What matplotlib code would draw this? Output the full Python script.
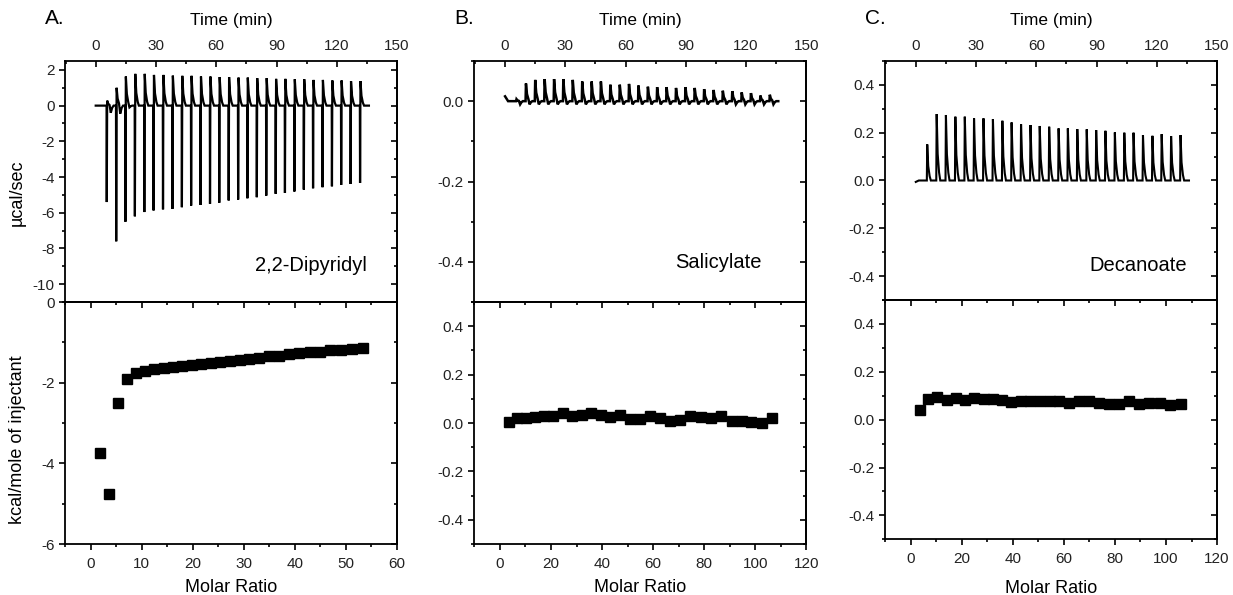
import numpy as np
import matplotlib
matplotlib.use('Agg')
import matplotlib.pyplot as plt
from matplotlib.ticker import MultipleLocator, FormatStrFormatter

plt.rcParams['font.family'] = ['Liberation Sans', 'DejaVu Sans']
plt.rcParams['axes.unicode_minus'] = False

# injection times (min), same protocol for all three titrations
t_inj = [5.5, 10.2, 14.8, 19.5, 24.2, 28.8, 33.5, 38.2, 42.9, 47.5, 52.2, 56.9, 61.5, 66.2,
         70.9, 75.5, 80.2, 84.9, 89.6, 94.2, 98.9, 103.6, 108.2, 112.9, 117.6, 122.2, 126.9, 131.6]
t_end = 136.0

# A. 2,2-Dipyridyl raw heat (ucal/sec): spike minimum, peak maximum, after-dip
a_low = [-5.4, -7.6, -6.5, -6.2, -5.96, -5.87, -5.81, -5.78, -5.69, -5.6, -5.56, -5.5, -5.44, -5.31,
         -5.26, -5.19, -5.13, -5.04, -4.94, -4.89, -4.81, -4.7, -4.63, -4.57, -4.52, -4.44, -4.39, -4.33]
a_high = [0.28, 1.0, 1.63, 1.78, 1.78, 1.72, 1.72, 1.68, 1.67, 1.67, 1.63, 1.63, 1.6, 1.6,
          1.57, 1.57, 1.54, 1.54, 1.5, 1.5, 1.48, 1.48, 1.44, 1.44, 1.41, 1.41, 1.37, 1.37]
a_dip = [-0.4, -0.45, -0.1, 0, 0, 0, 0, 0, 0, 0, 0, 0, 0, 0,
         0, 0, 0, 0, 0, 0, 0, 0, 0, 0, 0, 0, 0, 0]

# B. Salicylate raw heat
b_high = [0.005, 0.044, 0.053, 0.055, 0.055, 0.055, 0.053, 0.049, 0.049, 0.049, 0.041, 0.041, 0.043, 0.039,
          0.036, 0.035, 0.035, 0.033, 0.035, 0.033, 0.030, 0.028, 0.026, 0.025, 0.022, 0.020, 0.014, 0.016]
b_dip = [-0.008] * 28

# C. Decanoate raw heat
c_high = [0.151, 0.278, 0.274, 0.267, 0.267, 0.26, 0.26, 0.257, 0.25, 0.243, 0.236, 0.232, 0.228, 0.225,
          0.218, 0.218, 0.215, 0.214, 0.211, 0.208, 0.201, 0.2, 0.2, 0.19, 0.187, 0.194, 0.186, 0.19]

# integrated heats (kcal/mole of injectant) vs molar ratio
a_mr = [1.8, 3.6, 5.3, 7.1, 8.9, 10.7, 12.5, 14.3, 16.1, 18.0, 19.8, 21.6, 23.5, 25.4,
        27.3, 29.2, 31.1, 33.0, 35.0, 36.9, 38.9, 40.9, 42.9, 44.9, 46.9, 49.0, 51.1, 53.3]
a_dh = [-3.75, -4.75, -2.5, -1.9, -1.76, -1.70, -1.67, -1.63, -1.61, -1.58, -1.56, -1.53, -1.51, -1.48,
        -1.46, -1.43, -1.41, -1.39, -1.35, -1.33, -1.29, -1.27, -1.25, -1.23, -1.20, -1.19, -1.17, -1.15]

b_mr = [3.5, 6.8, 10.2, 13.7, 17.3, 20.9, 24.6, 28.3, 32.0, 35.7, 39.5, 43.2, 47.1, 50.9,
        54.8, 58.7, 62.6, 66.6, 70.5, 74.5, 78.6, 82.6, 86.7, 90.8, 94.9, 98.5, 102.5, 106.5]
b_dh = [0.004, 0.02, 0.02, 0.025, 0.03, 0.03, 0.04, 0.03, 0.035, 0.04, 0.035, 0.025, 0.035, 0.015,
        0.018, 0.028, 0.02, 0.01, 0.013, 0.028, 0.025, 0.02, 0.03, 0.007, 0.007, 0.004, 0.0, 0.02]

c_mr = [3.5, 7.0, 10.4, 14.2, 17.6, 21.4, 25.0, 28.7, 32.2, 35.9, 39.4, 43.1, 46.8, 50.5,
        54.4, 58.0, 61.9, 65.9, 69.8, 73.7, 77.6, 81.5, 85.4, 89.6, 93.5, 97.7, 101.6, 105.9]
c_dh = [0.039, 0.086, 0.094, 0.083, 0.09, 0.083, 0.09, 0.086, 0.086, 0.083, 0.073, 0.076, 0.079, 0.076,
        0.076, 0.076, 0.069, 0.076, 0.076, 0.069, 0.066, 0.065, 0.079, 0.066, 0.069, 0.069, 0.062, 0.066]


def trace(highs, lows=None, dips=None, start=0.0):
    # join the injection peaks into one thermogram line
    n = len(highs)
    lows = lows if lows is not None else [0.0] * n
    dips = dips if dips is not None else [0.0] * n
    t = [0.0, 1.5]
    y = [start, 0.0]
    for ti, lo, hi, dp in zip(t_inj, lows, highs, dips):
        t += [ti - 0.1, ti, ti + 0.2, ti + 0.7, ti + 1.4, ti + 2.0, ti + 2.7, ti + 3.4]
        y += [0.0, lo, hi, 0.4 * hi, 0.12 * hi, dp, 0.3 * dp, 0.0]
    t.append(t_end)
    y.append(0.0)
    return t, y


fig = plt.figure(figsize=(12.33, 5.95), dpi=100)

lefts = [0.0527, 0.3847, 0.7178]
width = 0.2693
tops = [(0.4924, 0.4051), (0.4924, 0.4051), (0.4958, 0.4017)]
bots = [(0.0857, 0.4067), (0.0857, 0.4067), (0.0936, 0.4022)]

TL = dict(labelsize=11, width=1.2, labelcolor='#222222')


def style_left_right(ax, major, minor, fmt=None):
    ax.yaxis.set_major_locator(MultipleLocator(major))
    ax.yaxis.set_minor_locator(MultipleLocator(minor))
    if fmt:
        ax.yaxis.set_major_formatter(FormatStrFormatter(fmt))
    ax.tick_params(axis='y', which='major', direction='out', length=4, right=False, **TL)
    ax.tick_params(axis='y', which='minor', direction='out', length=2.5, right=False, width=1.2)
    sec = ax.secondary_yaxis('right')
    sec.yaxis.set_major_locator(MultipleLocator(major))
    sec.yaxis.set_minor_locator(MultipleLocator(minor))
    sec.tick_params(axis='y', which='major', direction='in', length=4, labelright=False, width=1.2)
    sec.tick_params(axis='y', which='minor', direction='in', length=2.5, width=1.2)
    sec.spines['right'].set_linewidth(1.3)


raw = [
    trace(a_high, a_low, a_dip),
    trace(b_high, dips=b_dip, start=0.012),
    trace(c_high, start=-0.006),
]
iso = [(a_mr, a_dh), (b_mr, b_dh), (c_mr, c_dh)]
names = ['2,2-Dipyridyl', 'Salicylate', 'Decanoate']
panel = ['A.', 'B.', 'C.']
top_ylim = [(-11, 2.5), (-0.5, 0.1), (-0.5, 0.5)]
top_yt = [(2, 1, None), (0.2, 0.1, '%.1f'), (0.2, 0.1, '%.1f')]
bot_ylim = [(-6, 0), (-0.5, 0.5), (-0.5, 0.5)]
bot_yt = [(2, 1, None), (0.2, 0.1, '%.1f'), (0.2, 0.1, '%.1f')]
bot_xlim = [(-5, 60), (-10, 120), (-10, 120)]
bot_xt = [(10, 5), (20, 10), (20, 10)]
name_pos = [(0.91, 0.153), (0.866, 0.162), (0.909, 0.146)]
lw = [1.6, 1.8, 1.5]
mr_pad = [6, 6, 10]

for i in range(3):
    # thermogram
    ax = fig.add_axes([lefts[i], tops[i][0], width, tops[i][1]])
    t, y = raw[i]
    ax.plot(t, y, color='black', lw=lw[i], solid_joinstyle='miter')
    ax.set_xlim(-15.3, 150)
    ax.set_ylim(*top_ylim[i])
    ax.xaxis.tick_top()
    ax.xaxis.set_label_position('top')
    ax.xaxis.set_major_locator(MultipleLocator(30))
    ax.xaxis.set_minor_locator(MultipleLocator(15))
    ax.tick_params(axis='x', which='major', direction='in', length=4, pad=6, **TL)
    ax.tick_params(axis='x', which='minor', direction='in', length=2.5, width=1.2)
    style_left_right(ax, *top_yt[i])
    ax.set_xlabel('Time (min)', fontsize=12.5, labelpad=10)
    for s in ax.spines.values():
        s.set_linewidth(1.3)
    ax.text(name_pos[i][0], name_pos[i][1], names[i], transform=ax.transAxes,
            ha='right', va='center', fontsize=14.5)
    fig.text(lefts[i] - 0.0162, 0.9597, panel[i], fontsize=15, ha='left', va='baseline')
    if i == 0:
        ax.set_ylabel('µcal/sec', fontsize=13)
        ax.yaxis.set_label_coords(-0.117, 0.452)

    # integrated heats
    bx = fig.add_axes([lefts[i], bots[i][0], width, bots[i][1]])
    mr, dh = iso[i]
    bx.plot(mr, dh, 's', color='black', ms=7, mec='black')
    bx.set_xlim(*bot_xlim[i])
    bx.set_ylim(*bot_ylim[i])
    bx.xaxis.set_major_locator(MultipleLocator(bot_xt[i][0]))
    bx.xaxis.set_minor_locator(MultipleLocator(bot_xt[i][1]))
    bx.tick_params(axis='x', which='major', direction='out', length=4, top=False, pad=5, **TL)
    bx.tick_params(axis='x', which='minor', direction='out', length=2.5, top=False, width=1.2)
    secx = bx.secondary_xaxis('top')
    secx.xaxis.set_major_locator(MultipleLocator(bot_xt[i][0]))
    secx.xaxis.set_minor_locator(MultipleLocator(bot_xt[i][1]))
    secx.tick_params(axis='x', which='major', direction='in', length=4, labeltop=False, width=1.2)
    secx.tick_params(axis='x', which='minor', direction='in', length=2.5, width=1.2)
    secx.spines['top'].set_linewidth(1.3)
    style_left_right(bx, *bot_yt[i])
    bx.set_xlabel('Molar Ratio', fontsize=13, labelpad=mr_pad[i])
    for s in bx.spines.values():
        s.set_linewidth(1.3)
    if i == 0:
        bx.set_ylabel('kcal/mole of injectant', fontsize=13)
        bx.yaxis.set_label_coords(-0.117, 0.43)

fig.savefig('out.png', dpi=100)
